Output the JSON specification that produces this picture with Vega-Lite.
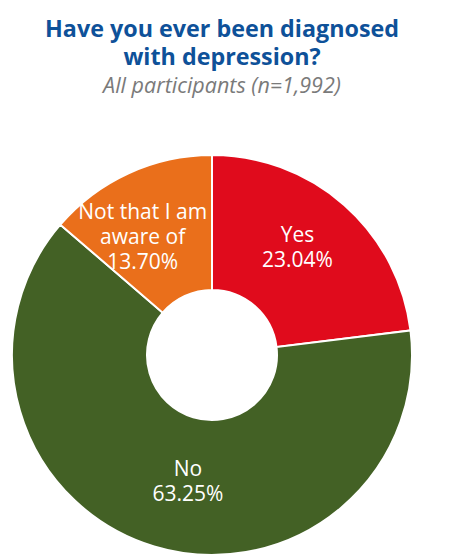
{
  "$schema": "https://vega.github.io/schema/vega-lite/v6.json",
  "width": 424,
  "height": 400,
  "autosize": {"type": "none"},
  "padding": {"top": 155, "left": 0, "right": 46, "bottom": 0},
  "background": "white",
  "config": {"view": {"stroke": null}, "font": "Open Sans"},
  "title": {
    "text": ["Have you ever been diagnosed", "with depression?"],
    "subtitle": "All participants (n=1,992)",
    "anchor": "middle",
    "frame": "group",
    "dx": 10,
    "font": "Open Sans",
    "fontSize": 23.3,
    "fontWeight": "bold",
    "color": "#0e5199",
    "lineHeight": 28.5,
    "subtitleFont": "Open Sans",
    "subtitleFontSize": 21.5,
    "subtitleFontStyle": "italic",
    "subtitleColor": "#7a7a7a",
    "subtitlePadding": 5,
    "offset": 53
  },
  "data": {
    "values": [
      {"answer": "Yes", "pct": 23.04, "rank": 1, "label": "Yes\n23.04%"},
      {"answer": "No", "pct": 63.25, "rank": 2, "label": "No\n63.25%"},
      {"answer": "Not that I am aware of", "pct": 13.70, "rank": 3, "label": "Not that I am\naware of\n13.70%"}
    ]
  },
  "transform": [
    {"stack": "pct", "groupby": [], "sort": [{"field": "rank", "order": "ascending"}], "as": ["t0", "t1"]},
    {"calculate": "(datum.t0 + datum.t1) / 2", "as": "mid"}
  ],
  "layer": [
    {
      "mark": {"type": "arc", "outerRadius": 200, "innerRadius": 65, "stroke": "white", "strokeWidth": 2},
      "encoding": {
        "theta": {"field": "t0", "type": "quantitative", "scale": {"domain": [0, 99.99]}},
        "theta2": {"field": "t1"},
        "color": {
          "field": "answer",
          "type": "nominal",
          "scale": {"domain": ["Yes", "No", "Not that I am aware of"], "range": ["#e00b1c", "#436125", "#ea6f1b"]},
          "legend": null
        }
      }
    },
    {
      "transform": [{"filter": "datum.answer === 'Yes'"}],
      "mark": {"type": "text", "radius": 135, "fill": "white", "fontSize": 21, "lineHeight": 25, "lineBreak": "\n", "dx": -4, "dy": -18},
      "encoding": {
        "theta": {"field": "mid", "type": "quantitative", "scale": {"domain": [0, 99.99]}},
        "text": {"field": "label"}
      }
    },
    {
      "transform": [{"filter": "datum.answer === 'No'"}],
      "mark": {"type": "text", "radius": 135, "fill": "white", "fontSize": 21, "lineHeight": 25, "lineBreak": "\n", "dx": 15, "dy": -14},
      "encoding": {
        "theta": {"field": "mid", "type": "quantitative", "scale": {"domain": [0, 99.99]}},
        "text": {"field": "label"}
      }
    },
    {
      "transform": [{"filter": "datum.answer === 'Not that I am aware of'"}],
      "mark": {"type": "text", "radius": 135, "fill": "white", "fontSize": 21, "lineHeight": 25, "lineBreak": "\n", "dx": -13, "dy": -19},
      "encoding": {
        "theta": {"field": "mid", "type": "quantitative", "scale": {"domain": [0, 99.99]}},
        "text": {"field": "label"}
      }
    }
  ]
}
